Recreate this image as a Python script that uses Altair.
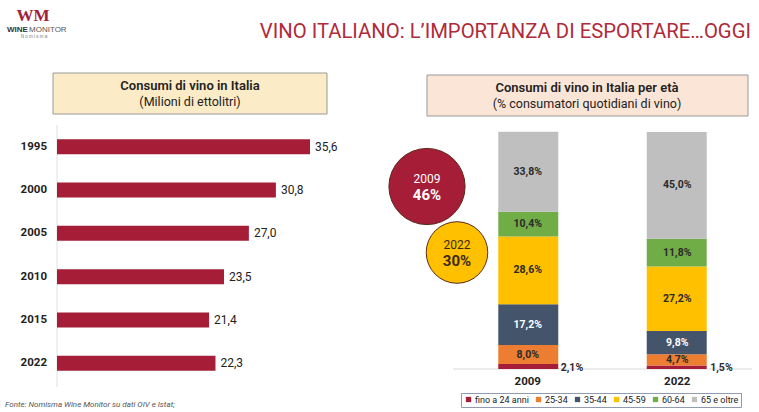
import altair as alt
import pandas as pd

# ---------------- data ----------------
years = ["1995", "2000", "2005", "2010", "2015", "2022"]
consumi = [35.6, 30.8, 27.0, 23.5, 21.4, 22.3]

age_groups = ["fino a 24 anni", "25-34", "35-44", "45-59", "60-64", "65 e oltre"]
age_colors = ["#A51D36", "#ED7D31", "#44546A", "#FFC000", "#70AD47", "#BFBFBF"]
share_2009 = [2.1, 8.0, 17.2, 28.6, 10.4, 33.8]
share_2022 = [1.5, 4.7, 9.8, 27.2, 11.8, 45.0]
bar_years = ["2009", "2022"]

circle_years = ["2009", "2022"]
circle_pct = [46, 30]
circle_fill = ["#A51D36", "#FFC000"]
circle_text = ["#FFFFFF", "#3B2A10"]

RED = "#A51D36"
FONT = "Roboto"

left_df = pd.DataFrame({"year": years, "value": consumi})
rows = []
for y, vals in zip(bar_years, [share_2009, share_2022]):
    for i, (g, v) in enumerate(zip(age_groups, vals)):
        rows.append({"year": y, "group": g, "value": v, "idx": i})
right_df = pd.DataFrame(rows)
circ_df = pd.DataFrame({"year": circle_years, "pct": circle_pct})
one = pd.DataFrame({"a": [0]})

# ---------------- scales ----------------
lx = alt.Scale(domain=[0, 35.6], range=[57, 310])
ly = alt.Scale(domain=years, range=[125, 385], paddingInner=0.654, paddingOuter=0.327)
rx = alt.Scale(domain=bar_years, range=[453, 752], paddingInner=0.596, paddingOuter=0.305)
ry = alt.Scale(domain=[0, 100], range=[369, 132])
cx = alt.Scale(type="point", domain=circle_years, range=[427, 457], padding=0)
cy = alt.Scale(type="point", domain=circle_years, range=[186.5, 252.5], padding=0)

def txt(s, x, y, size=12, color="#222", weight="normal", align="center", style="normal", font=FONT, baseline="middle"):
    return alt.Chart(one).mark_text(
        text=s, fontSize=size, color=color, fontWeight=weight, align=align,
        fontStyle=style, font=font, baseline=baseline
    ).encode(x=alt.value(x), y=alt.value(y))

def box(x1, x2, y1, y2, fill):
    return alt.Chart(one).mark_rect(fill=fill, stroke="#9A9A9A", strokeWidth=1).encode(
        x=alt.value(x1), x2=alt.value(x2), y=alt.value(y1), y2=alt.value(y2))

# ---------------- header ----------------
title = txt("VINO ITALIANO: L\u2019IMPORTANZA DI ESPORTARE\u2026OGGI", 751, 32, size=20.3,
            color="#B02A3A", align="right")
logo_wm = txt("WM", 33, 16, size=17, color=RED, weight="bold", font="Liberation Serif")
logo_wine = txt("WINE", 7, 30, size=8, color="#333", weight="bold", align="left", font="Liberation Sans")
logo_mon = txt("MONITOR", 29, 30, size=8, color="#555", align="left", font="Liberation Sans")
logo_nom = txt("N o m i s m a", 34, 37, size=4.5, color="#777", font="Liberation Sans")

# ---------------- boxes ----------------
lbox = box(53, 327, 73, 114, "#FCEBC7")
lt1 = txt("Consumi di vino in Italia", 190, 86, size=13, weight=600)
lt2 = txt("(Milioni di ettolitri)", 190, 102, size=12.5)
rbox = box(427, 748, 75, 116, "#FBE5D6")
rt1 = txt("Consumi di vino in Italia per et\u00e0", 587, 88, size=13, weight=600)
rt2 = txt("(% consumatori quotidiani di vino)", 587, 104, size=12.5)

# ---------------- left chart ----------------
left_axis = alt.Chart(one).mark_rule(color="#E0E0E0").encode(
    x=alt.value(57), y=alt.value(125), y2=alt.value(387))
left_bars = alt.Chart(left_df).mark_bar(color=RED).encode(
    x=alt.X("value:Q", scale=lx, axis=None),
    y=alt.Y("year:N", scale=ly, axis=None, sort=None))
left_vals = alt.Chart(left_df).transform_calculate(
    label="replace(format(datum.value, '.1f'), '.', ',')"
).mark_text(align="left", dx=5, fontSize=12, font=FONT, color="#222").encode(
    x=alt.X("value:Q", scale=lx, axis=None),
    y=alt.Y("year:N", scale=ly, axis=None, sort=None),
    text="label:N")
left_years = alt.Chart(left_df).mark_text(align="right", fontSize=11.5, font=FONT,
                                          fontWeight="bold", color="#222").encode(
    x=alt.value(47),
    y=alt.Y("year:N", scale=ly, axis=None, sort=None),
    text="year:N")

# ---------------- right chart ----------------
stacked = alt.Chart(right_df).transform_stack(
    stack="value", groupby=["year"], sort=[alt.SortField("idx", order="ascending")], as_=["y0", "y1"]
).transform_calculate(
    mid="(datum.y0 + datum.y1) / 2",
    label="replace(format(datum.value, '.1f'), '.', ',') + '%'"
)
right_base = alt.Chart(one).mark_rule(color="#D9D9D9").encode(
    x=alt.value(453), x2=alt.value(752), y=alt.value(369))
right_bars = stacked.mark_bar().encode(
    x=alt.X("year:N", scale=rx, axis=None),
    y=alt.Y("y0:Q", scale=ry, axis=None),
    y2="y1:Q",
    color=alt.Color("group:N", scale=alt.Scale(domain=age_groups, range=age_colors),
                    sort=age_groups,
                    legend=alt.Legend(orient="none", legendX=461, legendY=393, direction="horizontal",
                                      title=None, symbolType="square", symbolSize=28,
                                      symbolStrokeWidth=0, labelFontSize=9, labelFont=FONT,
                                      labelColor="#222", strokeColor="#8E9BB0", padding=2,
                                      columnPadding=4, symbolOffset=1, labelOffset=2,
                                      gridAlign="none")))
right_in = stacked.transform_filter("datum.idx > 0").mark_text(
    fontSize=10.5, font=FONT, fontWeight="bold").encode(
    x=alt.X("year:N", scale=rx, axis=None),
    y=alt.Y("mid:Q", scale=ry, axis=None),
    text="label:N",
    color=alt.condition("datum.group == '35-44'", alt.value("#FFFFFF"), alt.value("#2A2A2A")))
right_out = stacked.transform_filter("datum.idx == 0").mark_text(
    fontSize=10.5, font=FONT, fontWeight="bold", align="left", dx=33, dy=-1, color="#2A2A2A").encode(
    x=alt.X("year:N", scale=rx, axis=None),
    y=alt.Y("y0:Q", scale=ry, axis=None),
    text="label:N")
right_years = alt.Chart(pd.DataFrame({"year": bar_years})).mark_text(
    fontSize=11.5, font=FONT, fontWeight="bold", color="#222").encode(
    x=alt.X("year:N", scale=rx, axis=None), y=alt.value(382), text="year:N")

# ---------------- circles ----------------
circles = alt.Chart(circ_df).mark_circle(opacity=1, stroke="#5A2A1A", strokeWidth=1).encode(
    x=alt.X("year:N", scale=cx, axis=None),
    y=alt.Y("year:N", scale=cy, axis=None),
    size=alt.Size("pct:Q", scale=alt.Scale(domain=[0, 46], range=[0, 5809], zero=True), legend=None),
    fill=alt.Fill("year:N", scale=alt.Scale(domain=circle_years, range=circle_fill), legend=None))
circ_year = alt.Chart(circ_df).mark_text(fontSize=12, font=FONT, dy=-8).encode(
    x=alt.X("year:N", scale=cx, axis=None),
    y=alt.Y("year:N", scale=cy, axis=None),
    text="year:N",
    color=alt.Color("year:N", scale=alt.Scale(domain=circle_years, range=circle_text), legend=None))
circ_pct = alt.Chart(circ_df).transform_calculate(lab="datum.pct + '%'").mark_text(
    fontSize=15, font=FONT, fontWeight="bold", dy=8).encode(
    x=alt.X("year:N", scale=cx, axis=None),
    y=alt.Y("year:N", scale=cy, axis=None),
    text="lab:N",
    color=alt.Color("year:N", scale=alt.Scale(domain=circle_years, range=circle_text), legend=None))

source = txt("Fonte: Nomisma Wine Monitor su dati OIV e Istat;", 5, 405, size=8, color="#555",
             align="left", style="italic")

chart = alt.layer(
    title, logo_wm, logo_wine, logo_mon, logo_nom,
    lbox, lt1, lt2, rbox, rt1, rt2,
    left_axis, left_bars, left_vals, left_years,
    right_base, right_bars, right_in, right_out, right_years,
    circles, circ_year, circ_pct, source
).resolve_scale(
    x="independent", y="independent", color="independent", size="independent", fill="independent"
).properties(
    width=759, height=412, padding=0, autosize="none", background="white"
).configure_view(stroke=None)

chart.save("out.html", embed_options={"renderer": "svg", "actions": False})
